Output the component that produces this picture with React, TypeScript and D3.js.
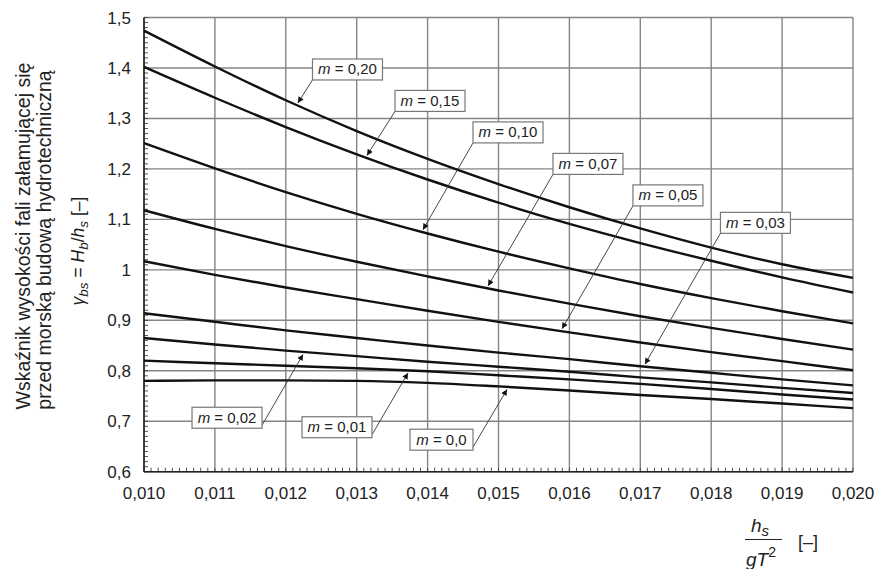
import React from 'react';
import * as d3 from 'd3';

// ---- data ----
const xValues = [0.010, 0.011, 0.012, 0.013, 0.014, 0.015, 0.016, 0.017, 0.018, 0.019, 0.020];
const m020 = [1.474, 1.403, 1.336, 1.275, 1.220, 1.170, 1.124, 1.082, 1.044, 1.011, 0.984];
const m015 = [1.402, 1.341, 1.283, 1.229, 1.179, 1.133, 1.091, 1.053, 1.018, 0.985, 0.955];
const m010 = [1.251, 1.201, 1.154, 1.111, 1.072, 1.036, 1.003, 0.972, 0.944, 0.918, 0.894];
const m007 = [1.118, 1.081, 1.047, 1.016, 0.987, 0.959, 0.933, 0.908, 0.885, 0.863, 0.842];
const m005 = [1.017, 0.990, 0.965, 0.942, 0.919, 0.897, 0.876, 0.856, 0.837, 0.819, 0.801];
const m003 = [0.914, 0.897, 0.880, 0.865, 0.850, 0.836, 0.823, 0.809, 0.796, 0.783, 0.771];
const m002 = [0.865, 0.852, 0.840, 0.829, 0.818, 0.808, 0.798, 0.787, 0.777, 0.766, 0.756];
const m001 = [0.820, 0.815, 0.810, 0.805, 0.799, 0.791, 0.783, 0.774, 0.764, 0.753, 0.743];
const m000 = [0.780, 0.781, 0.781, 0.780, 0.776, 0.769, 0.761, 0.752, 0.744, 0.735, 0.726];

const seriesList = [m020, m015, m010, m007, m005, m003, m002, m001, m000];
const mLabels = ['0,20', '0,15', '0,10', '0,07', '0,05', '0,03', '0,02', '0,01', '0,0'];

const xTickValues = [0.010, 0.011, 0.012, 0.013, 0.014, 0.015, 0.016, 0.017, 0.018, 0.019, 0.020];
const xTickLabels = ['0,010', '0,011', '0,012', '0,013', '0,014', '0,015', '0,016', '0,017', '0,018', '0,019', '0,020'];
const yTickValues = [0.6, 0.7, 0.8, 0.9, 1.0, 1.1, 1.2, 1.3, 1.4, 1.5];
const yTickLabels = ['0,6', '0,7', '0,8', '0,9', '1', '1,1', '1,2', '1,3', '1,4', '1,5'];

// annotation: arrow tip x (data), label box centre (data)
const annTipX = [0.01217, 0.013145, 0.013935, 0.014852, 0.015896, 0.017066, 0.012243, 0.013724, 0.01512];
const annBoxX = [0.01287, 0.014034, 0.015134, 0.016262, 0.01739, 0.018624, 0.011171, 0.012722, 0.014196];
const annBoxY = [1.397, 1.3347, 1.2723, 1.2099, 1.1475, 1.0931, 0.7069, 0.6881, 0.6634];

const W = 875;
const H = 569;
const L = 144, R = 853, T = 17.5, B = 471.7;

function interp(xs: number[], ys: number[], x: number) {
  const i = Math.max(0, Math.min(xs.length - 2, d3.bisectRight(xs, x) - 1));
  const t = (x - xs[i]) / (xs[i + 1] - xs[i]);
  return ys[i] + t * (ys[i + 1] - ys[i]);
}

export default function App() {
  const x = d3.scaleLinear().domain([0.010, 0.020]).range([L, R]);
  const y = d3.scaleLinear().domain([0.6, 1.5]).range([B, T]);
  const line = d3
    .line<number>()
    .x((_, i) => x(xValues[i]))
    .y((d) => y(d))
    .curve(d3.curveMonotoneX);

  const xMinor = d3.range(0, 101).map((i) => 0.010 + i * 0.0001);
  const yMinor = d3.range(0, 91).map((i) => 0.6 + i * 0.01);
  const font = 'Liberation Sans, Arial, Helvetica, sans-serif';
  const grid = '#858585';

  return (
    <svg
      width={W}
      height={H}
      viewBox={`0 0 ${W} ${H}`}
      style={{ position: 'absolute', left: 0, top: 0, background: '#fff' }}
      fontFamily={font}
    >
      <defs>
        <marker id="ah" viewBox="0 0 10 10" refX="10" refY="5" markerWidth="8" markerHeight="6" markerUnits="userSpaceOnUse" orient="auto">
          <path d="M0,0 L10,5 L0,10 z" fill="#111" />
        </marker>
      </defs>
      <rect x={0} y={0} width={W} height={H} fill="#fff" />

      {/* grid */}
      {xTickValues.map((v, i) => (
        <line key={'gx' + i} x1={x(v)} x2={x(v)} y1={T} y2={B} stroke={grid} strokeWidth={1.4} />
      ))}
      {yTickValues.map((v, i) => (
        <line key={'gy' + i} x1={L} x2={R} y1={y(v)} y2={y(v)} stroke={grid} strokeWidth={1.4} />
      ))}

      {/* minor ticks */}
      {xMinor.map((v, i) => (
        <line key={'mx' + i} x1={x(v)} x2={x(v)} y1={B} y2={B - 4} stroke="#444" strokeWidth={0.9} />
      ))}
      {yMinor.map((v, i) => (
        <line key={'my' + i} x1={L} x2={L + 4} y1={y(v)} y2={y(v)} stroke="#444" strokeWidth={0.9} />
      ))}

      {/* axes */}
      <line x1={L} x2={L} y1={T} y2={B} stroke="#222" strokeWidth={1.6} />
      <line x1={L} x2={R} y1={B} y2={B} stroke="#222" strokeWidth={1.6} />

      {/* curves */}
      {seriesList.map((s, i) => (
        <path key={'s' + i} d={line(s) || ''} fill="none" stroke="#111" strokeWidth={2.4} />
      ))}

      {/* tick labels */}
      {yTickValues.map((v, i) => (
        <text key={'ty' + i} x={131} y={y(v) + 6} textAnchor="end" fontSize={17} fill="#222">
          {yTickLabels[i]}
        </text>
      ))}
      {xTickValues.map((v, i) => (
        <text key={'tx' + i} x={x(v)} y={499} textAnchor="middle" fontSize={17} fill="#222">
          {xTickLabels[i]}
        </text>
      ))}

      {/* annotations */}
      {mLabels.map((lab, i) => {
        const s = seriesList[i];
        const tx = x(annTipX[i]);
        const upper = annBoxY[i] > interp(xValues, s, annBoxX[i]);
        const ty = y(interp(xValues, s, annTipX[i])) + (upper ? -2.5 : 2.5);
        const cx = x(annBoxX[i]);
        const cy = y(annBoxY[i]);
        const w = 7 * (lab.length + 4) + 14;
        const h = 21;
        const sx = upper ? cx - w / 2 : cx + w / 2;
        const sy = upper ? cy + h / 2 : cy + h / 2 - 3;
        return (
          <g key={'a' + i}>
            <line x1={sx} y1={sy} x2={tx} y2={ty} stroke="#333" strokeWidth={0.9} markerEnd="url(#ah)" />
            <rect x={cx - w / 2} y={cy - h / 2} width={w} height={h} fill="#fff" stroke="#777" strokeWidth={1.2} />
            <text x={cx} y={cy + 5} textAnchor="middle" fontSize={15} fill="#222">
              <tspan fontStyle="italic">m</tspan>
              {' = ' + lab}
            </text>
          </g>
        );
      })}

      {/* y axis title */}
      <g transform="translate(23,236) rotate(-90)">
        <text x={0} y={7} textAnchor="middle" fontSize={19.5} fill="#222">
          Wskaźnik wysokości fali załamującej się
        </text>
      </g>
      <g transform="translate(44,240) rotate(-90)">
        <text x={0} y={7} textAnchor="middle" fontSize={19.5} fill="#222">
          przed morską budową hydrotechniczną
        </text>
      </g>
      <g transform="translate(78,251) rotate(-90)">
        <text x={0} y={6} textAnchor="middle" fontSize={17.5} fill="#222">
          <tspan fontStyle="italic">γ</tspan>
          <tspan fontStyle="italic" fontSize={13.5} dy={4}>bs</tspan>
          <tspan dy={-4}> = </tspan>
          <tspan fontStyle="italic">H</tspan>
          <tspan fontStyle="italic" fontSize={13.5} dy={4}>b</tspan>
          <tspan dy={-4}>/</tspan>
          <tspan fontStyle="italic">h</tspan>
          <tspan fontStyle="italic" fontSize={13.5} dy={4}>s</tspan>
          <tspan dy={-4}>  [–]</tspan>
        </text>
      </g>

      {/* x axis title */}
      <text x={760} y={532} textAnchor="middle" fontSize={19} fill="#222">
        <tspan fontStyle="italic">h</tspan>
        <tspan fontStyle="italic" fontSize={15} dy={4}>s</tspan>
      </text>
      <line x1={745} x2={782} y1={539.5} y2={539.5} stroke="#222" strokeWidth={1.2} />
      <text x={761} y={566} textAnchor="middle" fontSize={19} fill="#222">
        <tspan fontStyle="italic">gT</tspan>
        <tspan fontSize={14} dy={-9}>2</tspan>
      </text>
      <text x={798} y={548} fontSize={18} fill="#222">
        [–]
      </text>
    </svg>
  );
}
